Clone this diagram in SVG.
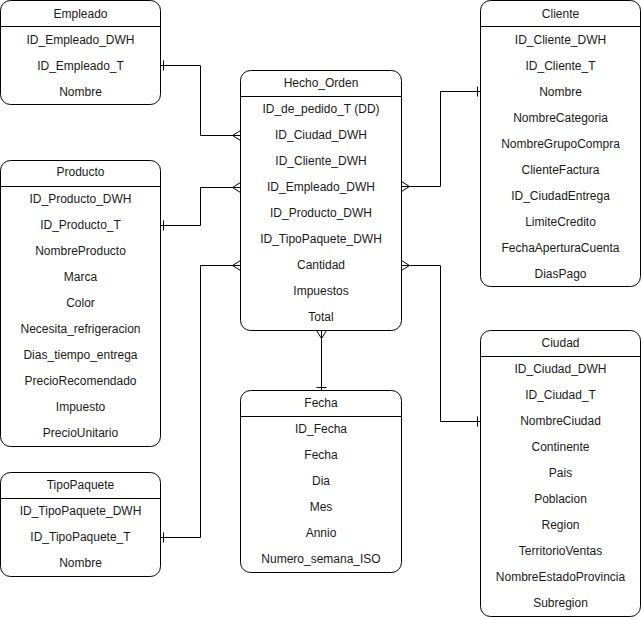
<svg xmlns="http://www.w3.org/2000/svg" width="641" height="620" viewBox="0 0 641 620">
  <style>
    .box { fill: #ffffff; stroke: #000000; stroke-width: 1; }
    .sep { stroke: #000000; stroke-width: 1; }
    .t { font-family: "Liberation Sans", Arial, Helvetica, sans-serif; font-size: 12px; fill: #1a1a1a; text-anchor: middle; }
    .edge { fill: none; stroke: #000000; stroke-width: 1; }
  </style>
  <rect width="641" height="620" fill="#ffffff"/>

  <!-- Connectors -->
  <g id="connectors" class="edge">
    <!-- Empleado -> Hecho_Orden -->
    <path d="M160.5 65.5 H200.5 V135.5 H240.5"/>
    <path d="M163.5 60.5 V70.5"/>
    <path d="M232.5 135.5 L240.5 130.5 M232.5 135.5 L240.5 140.5"/>
    <!-- Producto -> Hecho_Orden -->
    <path d="M160.5 225.5 H200.5 V187.5 H240.5"/>
    <path d="M163.5 220.5 V230.5"/>
    <path d="M232.5 187.5 L240.5 182.5 M232.5 187.5 L240.5 192.5"/>
    <!-- TipoPaquete -> Hecho_Orden -->
    <path d="M160.5 537.5 H200.5 V265.5 H240.5"/>
    <path d="M163.5 532.5 V542.5"/>
    <path d="M232.5 265.5 L240.5 260.5 M232.5 265.5 L240.5 270.5"/>
    <!-- Cliente -> Hecho_Orden -->
    <path d="M480.5 91.5 H440.5 V186.5 H401.5"/>
    <path d="M477.5 86.5 V96.5"/>
    <path d="M409.5 186.5 L401.5 181.5 M409.5 186.5 L401.5 191.5"/>
    <!-- Ciudad -> Hecho_Orden -->
    <path d="M480.5 421.5 H440.5 V265.5 H401.5"/>
    <path d="M477.5 416.5 V426.5"/>
    <path d="M409.5 265.5 L401.5 260.5 M409.5 265.5 L401.5 270.5"/>
    <!-- Fecha -> Hecho_Orden -->
    <path d="M321.5 330.5 V390.5"/>
    <path d="M316.5 387.5 H326.5"/>
    <path d="M321.5 338.5 L316.5 330.5 M321.5 338.5 L326.5 330.5"/>
  </g>

  <!-- Empleado -->
  <g id="Empleado">
    <rect class="box" x="0.5" y="0.5" width="160" height="104" rx="10"/>
    <line class="sep" x1="0.5" y1="26.5" x2="160.5" y2="26.5"/>
    <text class="t" x="80.5" y="18">Empleado</text>
    <text class="t" x="80.5" y="44">ID_Empleado_DWH</text>
    <text class="t" x="80.5" y="70">ID_Empleado_T</text>
    <text class="t" x="80.5" y="96">Nombre</text>
  </g>

  <!-- Producto -->
  <g id="Producto">
    <rect class="box" x="0.5" y="160.5" width="160" height="286" rx="10"/>
    <line class="sep" x1="0.5" y1="186.5" x2="160.5" y2="186.5"/>
    <text class="t" x="80.5" y="176">Producto</text>
    <text class="t" x="80.5" y="203">ID_Producto_DWH</text>
    <text class="t" x="80.5" y="229">ID_Producto_T</text>
    <text class="t" x="80.5" y="255">NombreProducto</text>
    <text class="t" x="80.5" y="281">Marca</text>
    <text class="t" x="80.5" y="307">Color</text>
    <text class="t" x="80.5" y="333">Necesita_refrigeracion</text>
    <text class="t" x="80.5" y="359">Dias_tiempo_entrega</text>
    <text class="t" x="80.5" y="385">PrecioRecomendado</text>
    <text class="t" x="80.5" y="411">Impuesto</text>
    <text class="t" x="80.5" y="437">PrecioUnitario</text>
  </g>

  <!-- TipoPaquete -->
  <g id="TipoPaquete">
    <rect class="box" x="0.5" y="472.5" width="160" height="104" rx="10"/>
    <line class="sep" x1="0.5" y1="498.5" x2="160.5" y2="498.5"/>
    <text class="t" x="80.5" y="489">TipoPaquete</text>
    <text class="t" x="80.5" y="515">ID_TipoPaquete_DWH</text>
    <text class="t" x="80.5" y="541">ID_TipoPaquete_T</text>
    <text class="t" x="80.5" y="567">Nombre</text>
  </g>

  <!-- Hecho_Orden -->
  <g id="Hecho_Orden">
    <rect class="box" x="240.5" y="70.5" width="161" height="260" rx="10"/>
    <line class="sep" x1="240.5" y1="96.5" x2="401.5" y2="96.5"/>
    <text class="t" x="321" y="87">Hecho_Orden</text>
    <text class="t" x="321" y="113">ID_de_pedido_T (DD)</text>
    <text class="t" x="321" y="139">ID_Ciudad_DWH</text>
    <text class="t" x="321" y="165">ID_Cliente_DWH</text>
    <text class="t" x="321" y="191">ID_Empleado_DWH</text>
    <text class="t" x="321" y="217">ID_Producto_DWH</text>
    <text class="t" x="321" y="243">ID_TipoPaquete_DWH</text>
    <text class="t" x="321" y="269">Cantidad</text>
    <text class="t" x="321" y="295">Impuestos</text>
    <text class="t" x="321" y="321">Total</text>
  </g>

  <!-- Fecha -->
  <g id="Fecha">
    <rect class="box" x="240.5" y="390.5" width="161" height="182" rx="10"/>
    <line class="sep" x1="240.5" y1="416.5" x2="401.5" y2="416.5"/>
    <text class="t" x="321" y="407">Fecha</text>
    <text class="t" x="321" y="433">ID_Fecha</text>
    <text class="t" x="321" y="459">Fecha</text>
    <text class="t" x="321" y="485">Dia</text>
    <text class="t" x="321" y="511">Mes</text>
    <text class="t" x="321" y="537">Annio</text>
    <text class="t" x="321" y="563">Numero_semana_ISO</text>
  </g>

  <!-- Cliente -->
  <g id="Cliente">
    <rect class="box" x="480.5" y="0.5" width="160" height="286" rx="10"/>
    <line class="sep" x1="480.5" y1="26.5" x2="640.5" y2="26.5"/>
    <text class="t" x="560.5" y="18">Cliente</text>
    <text class="t" x="560.5" y="44">ID_Cliente_DWH</text>
    <text class="t" x="560.5" y="70">ID_Cliente_T</text>
    <text class="t" x="560.5" y="96">Nombre</text>
    <text class="t" x="560.5" y="122">NombreCategoria</text>
    <text class="t" x="560.5" y="148">NombreGrupoCompra</text>
    <text class="t" x="560.5" y="174">ClienteFactura</text>
    <text class="t" x="560.5" y="200">ID_CiudadEntrega</text>
    <text class="t" x="560.5" y="226">LimiteCredito</text>
    <text class="t" x="560.5" y="252">FechaAperturaCuenta</text>
    <text class="t" x="560.5" y="278">DiasPago</text>
  </g>

  <!-- Ciudad -->
  <g id="Ciudad">
    <rect class="box" x="480.5" y="330.5" width="160" height="286" rx="10"/>
    <line class="sep" x1="480.5" y1="356.5" x2="640.5" y2="356.5"/>
    <text class="t" x="560.5" y="347">Ciudad</text>
    <text class="t" x="560.5" y="373">ID_Ciudad_DWH</text>
    <text class="t" x="560.5" y="399">ID_Ciudad_T</text>
    <text class="t" x="560.5" y="425">NombreCiudad</text>
    <text class="t" x="560.5" y="451">Continente</text>
    <text class="t" x="560.5" y="477">Pais</text>
    <text class="t" x="560.5" y="503">Poblacion</text>
    <text class="t" x="560.5" y="529">Region</text>
    <text class="t" x="560.5" y="555">TerritorioVentas</text>
    <text class="t" x="560.5" y="581">NombreEstadoProvincia</text>
    <text class="t" x="560.5" y="607">Subregion</text>
  </g>
</svg>
